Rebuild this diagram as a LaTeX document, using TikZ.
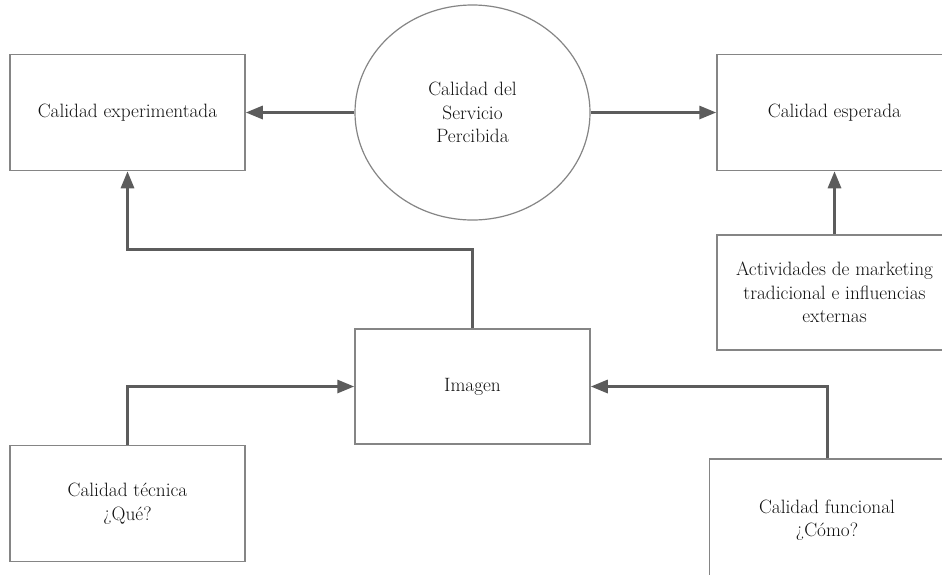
\documentclass[tikz,border=0pt]{standalone}
\usetikzlibrary{arrows.meta,shapes.geometric}
\definecolor{boxline}{HTML}{858585}
\definecolor{conn}{HTML}{5C5C5C}
\definecolor{txt}{HTML}{111111}
\begin{document}
\begin{tikzpicture}[x=1pt,y=-1pt,
  box/.style={draw=boxline,line width=1.5pt,fill=white,minimum width=235pt,
    minimum height=116pt,inner sep=0pt,align=center,text=txt,
    font=\rmfamily\fontsize{19.3}{23.5}\selectfont},
  oval/.style={box,ellipse,minimum width=235pt,minimum height=215pt,line width=1.2pt},
  arr/.style={draw=conn,line width=3pt,-{Triangle[length=17pt,width=13pt]}}]
\useasboundingbox (0,0) rectangle (942,574);
\clip (0,0) rectangle (942,574);
\fill[white] (0,0) rectangle (942,574);

% nodes
\node[oval] (ell) at (472.5,112.5) {Calidad del\\Servicio\\Percibida};
\node[box] (exp) at (127.5,112.5) {Calidad experimentada};
\node[box] (esp) at (834.5,112.5) {Calidad esperada};
\node[box,minimum height=115pt] (act) at (834.5,292.5) {Actividades de marketing\\tradicional e influencias\\externas};
\node[box,minimum height=115pt] (img) at (472.5,386.5) {Imagen};
\node[box] (tec) at (127.5,503.5) {Calidad técnica\\¿Qué?};
\node[box,minimum height=122pt] (fun) at (827,520) {Calidad funcional\\¿Cómo?};

% connectors
\draw[arr] (ell.west) -- (exp.east);
\draw[arr] (ell.east) -- (esp.west);
\draw[arr] (act.north) -- (esp.south);
\draw[arr] (img.north) -- ++(0,-79) -| (exp.south);
\draw[arr] (tec.north) |- (img.west);
\draw[arr] (fun.north) |- (img.east);
\end{tikzpicture}
\end{document}
